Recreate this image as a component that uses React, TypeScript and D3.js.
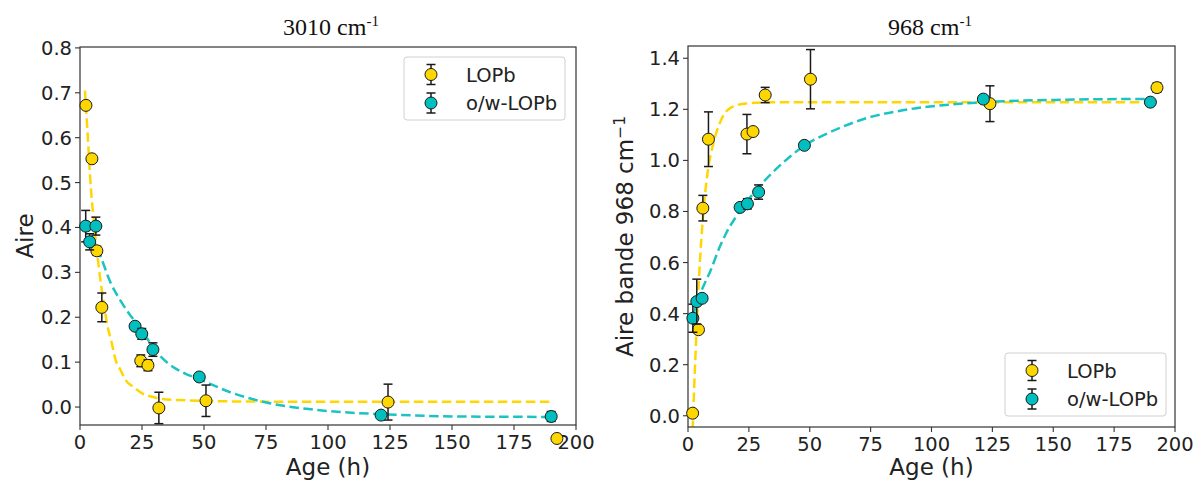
import React from "react";
import * as d3 from "d3";

// ---------- Data: 3010 cm-1 ----------
const lopb3010X = [2.4, 4.8, 6.8, 8.8, 24.5, 27.4, 31.8, 50.8, 124.2, 192.3];
const lopb3010Y = [0.672, 0.553, 0.348, 0.222, 0.103, 0.093, -0.002, 0.014, 0.011, -0.07];
const lopb3010Err = [0.004, 0.004, 0.01, 0.032, 0.013, 0.012, 0.035, 0.035, 0.04, 0];
const ow3010X = [2.3, 3.9, 6.4, 22.2, 24.9, 29.4, 48.1, 121.4, 190.0];
const ow3010Y = [0.403, 0.368, 0.403, 0.18, 0.163, 0.128, 0.067, -0.018, -0.021];
const ow3010Err = [0.035, 0.018, 0.02, 0.005, 0.012, 0.015, 0.005, 0.004, 0.011];
const lopbFit3010X = [2.0, 3.0, 4.35, 5.5, 6.8, 8.4, 9.5, 11.1, 12.5, 14.4, 16.4, 18.4, 21.5, 25.2, 29, 33.2, 42.6, 55, 80, 190];
const lopbFit3010Y = [0.705, 0.615, 0.49, 0.418, 0.35, 0.275, 0.235, 0.18, 0.15, 0.104, 0.082, 0.06, 0.045, 0.03, 0.023, 0.018, 0.015, 0.013, 0.012, 0.012];
const owFit3010X = [2.3, 5, 8.4, 12.4, 16, 19.8, 22, 25, 30.5, 38.6, 42.6, 48.1, 60.6, 76, 91.4, 105, 122.2, 153, 190];
const owFit3010Y = [0.41, 0.378, 0.334, 0.276, 0.24, 0.208, 0.192, 0.17, 0.125, 0.0855, 0.074, 0.062, 0.033, 0.009, -0.004, -0.011, -0.016, -0.021, -0.022];

// ---------- Data: 968 cm-1 ----------
const lopb968X = [1.9, 4.3, 6.1, 8.4, 24.2, 26.7, 31.7, 50.3, 124.0, 192.6];
const lopb968Y = [0.01, 0.337, 0.813, 1.083, 1.103, 1.113, 1.256, 1.318, 1.222, 1.285];
const lopb968Err = [0, 0.01, 0.05, 0.107, 0.077, 0, 0.03, 0.116, 0.07, 0.018];
const ow968X = [2.0, 3.6, 5.8, 21.4, 24.4, 29.0, 47.8, 121.3, 189.9];
const ow968Y = [0.382, 0.447, 0.46, 0.816, 0.83, 0.876, 1.059, 1.24, 1.228];
const ow968Err = [0.055, 0.088, 0.01, 0, 0.02, 0.028, 0, 0, 0];
const lopbFit968X = [1.9, 2.5, 3.0, 4.0, 5.0, 6.0, 7.3, 8.5, 10.5, 13.2, 17.3, 24, 35, 60, 190];
const lopbFit968Y = [-0.056, 0.1, 0.22, 0.44, 0.62, 0.76, 0.895, 0.98, 1.07, 1.15, 1.205, 1.223, 1.228, 1.228, 1.228];
const owFit968X = [2.0, 4, 6.0, 9.1, 13.2, 15.4, 20.1, 29.5, 38.9, 47.8, 57.6, 73.2, 88.8, 120, 151, 190];
const owFit968Y = [0.39, 0.45, 0.5, 0.565, 0.665, 0.71, 0.785, 0.9, 0.99, 1.058, 1.107, 1.165, 1.197, 1.227, 1.237, 1.241];

// ---------- Ticks / labels ----------
const xTicks = [0, 25, 50, 75, 100, 125, 150, 175, 200];
const yTicks3010 = [0, 0.1, 0.2, 0.3, 0.4, 0.5, 0.6, 0.7, 0.8];
const yTicks968 = [0, 0.2, 0.4, 0.6, 0.8, 1.0, 1.2, 1.4];
const seriesNames = ["LOPb", "o/w-LOPb"];

const GOLD = "#FFD700";
const TEAL = "#00BFBF";
const TEAL_LINE = "#1CC3C3";
const SANS = "'DejaVu Sans', sans-serif";
const SERIF = "'Liberation Serif', 'Times New Roman', serif";
const TICK_FS = 19.5;
const LABEL_FS = 23;

type Series = { x: number[]; y: number[]; err: number[]; color: string };
type Fit = { x: number[]; y: number[]; color: string };

function Marker({ cx, cy, top, bot, color }: { cx: number; cy: number; top: number; bot: number; color: string }) {
  const cap = 4.5;
  return (
    <g>
      {Math.abs(bot - top) > 0.5 && (
        <g stroke="#1a1a1a" strokeWidth={1.5}>
          <line x1={cx} x2={cx} y1={top} y2={bot} />
          <line x1={cx - cap} x2={cx + cap} y1={top} y2={top} />
          <line x1={cx - cap} x2={cx + cap} y1={bot} y2={bot} />
        </g>
      )}
      <circle cx={cx} cy={cy} r={6} fill={color} stroke="#1a1a1a" strokeWidth={1} />
    </g>
  );
}

function Panel(props: {
  id: string;
  x0: number; x1: number; yTop: number; yBot: number;
  yDomain: [number, number];
  yTicks: number[]; yFmt: (v: number) => string;
  title: string; titleX: number;
  yLabel: string; yLabelSup?: string; yLabelX: number;
  series: Series[]; fits: Fit[];
  legend: { x: number; y: number };
}) {
  const { id, x0, x1, yTop, yBot } = props;
  const xs = d3.scaleLinear().domain([0, 200]).range([x0, x1]);
  const ys = d3.scaleLinear().domain(props.yDomain).range([yBot, yTop]);
  const line = d3
    .line<[number, number]>()
    .x((d) => xs(d[0]))
    .y((d) => ys(d[1]))
    .curve(d3.curveMonotoneX);
  const cx = (x0 + x1) / 2;
  const cy = (yTop + yBot) / 2;
  const lw = 161, lh = 63;
  return (
    <g>
      <defs>
        <clipPath id={id}>
          <rect x={x0} y={yTop} width={x1 - x0} height={yBot - yTop} />
        </clipPath>
      </defs>
      <text x={props.titleX} y={35} textAnchor="middle" fontFamily={SERIF} fontSize={24} fill="#111">
        {props.title}
        <tspan dy={-9} fontSize={15}>-1</tspan>
      </text>
      <g clipPath={`url(#${id})`}>
        {props.fits.map((f, i) => (
          <path
            key={i}
            d={line(f.x.map((v, j) => [v, f.y[j]] as [number, number])) || ""}
            fill="none"
            stroke={f.color}
            strokeWidth={2.5}
            strokeDasharray="9.5,4.5"
          />
        ))}
      </g>
      <rect x={x0} y={yTop} width={x1 - x0} height={yBot - yTop} fill="none" stroke="#333" strokeWidth={1.2} />
      {xTicks.map((t) => (
        <g key={t}>
          <line x1={xs(t)} x2={xs(t)} y1={yBot} y2={yBot + 5} stroke="#333" strokeWidth={1.1} />
          <text x={xs(t)} y={yBot + 24} textAnchor="middle" fontFamily={SANS} fontSize={TICK_FS} fill="#222">
            {t}
          </text>
        </g>
      ))}
      {props.yTicks.map((t) => (
        <g key={t}>
          <line x1={x0 - 5} x2={x0} y1={ys(t)} y2={ys(t)} stroke="#333" strokeWidth={1.1} />
          <text x={x0 - 8} y={ys(t)} dy="0.36em" textAnchor="end" fontFamily={SANS} fontSize={TICK_FS} fill="#222">
            {props.yFmt(t)}
          </text>
        </g>
      ))}
      <text x={cx} y={475} textAnchor="middle" fontFamily={SANS} fontSize={LABEL_FS} fill="#222">
        Age (h)
      </text>
      <text
        transform={`translate(${props.yLabelX},${cy}) rotate(-90)`}
        textAnchor="middle"
        fontFamily={SANS}
        fontSize={LABEL_FS}
        fill="#222"
      >
        {props.yLabel}
        {props.yLabelSup && (
          <tspan dy={-8} fontSize={15.5}>
            {props.yLabelSup}
          </tspan>
        )}
      </text>
      {props.series.map((s, si) => (
        <g key={si}>
          {s.x.map((v, j) => (
            <Marker
              key={j}
              cx={xs(v)}
              cy={ys(s.y[j])}
              top={ys(s.y[j] + s.err[j])}
              bot={ys(s.y[j] - s.err[j])}
              color={s.color}
            />
          ))}
        </g>
      ))}
      <g>
        <rect x={props.legend.x} y={props.legend.y} width={lw} height={lh} rx={3} fill="#fff" fillOpacity={0.85} stroke="#d0d0d0" strokeWidth={1} />
        {seriesNames.map((n, i) => {
          const ey = props.legend.y + 17.5 + i * 28.5;
          const mx = props.legend.x + 27;
          return (
            <g key={n}>
              <Marker cx={mx} cy={ey} top={ey - 10} bot={ey + 10} color={props.series[i].color} />
              <text x={props.legend.x + 62} y={ey} dy="0.36em" fontFamily={SANS} fontSize={TICK_FS} fill="#222">
                {n}
              </text>
            </g>
          );
        })}
      </g>
    </g>
  );
}

export default function App() {
  const fmt1 = d3.format(".1f");
  return (
    <svg
      width={1196}
      height={480}
      viewBox="0 0 1196 480"
      style={{ position: "absolute", left: 0, top: 0, background: "#fff" }}
    >
      <rect width={1196} height={480} fill="#fff" />
      <Panel
        id="clipA"
        x0={80}
        x1={576}
        yTop={47}
        yBot={425}
        yDomain={[-0.04, 0.802]}
        yTicks={yTicks3010}
        yFmt={fmt1}
        title="3010 cm"
        titleX={331}
        yLabel="Aire"
        yLabelX={33}
        series={[
          { x: lopb3010X, y: lopb3010Y, err: lopb3010Err, color: GOLD },
          { x: ow3010X, y: ow3010Y, err: ow3010Err, color: TEAL },
        ]}
        fits={[
          { x: lopbFit3010X, y: lopbFit3010Y, color: GOLD },
          { x: owFit3010X, y: owFit3010Y, color: TEAL_LINE },
        ]}
        legend={{ x: 404, y: 57 }}
      />
      <Panel
        id="clipB"
        x0={688}
        x1={1175}
        yTop={46}
        yBot={427}
        yDomain={[-0.044, 1.448]}
        yTicks={yTicks968}
        yFmt={fmt1}
        title="968 cm"
        titleX={930}
        yLabel="Aire bande 968 cm"
        yLabelSup="−1"
        yLabelX={633}
        series={[
          { x: lopb968X, y: lopb968Y, err: lopb968Err, color: GOLD },
          { x: ow968X, y: ow968Y, err: ow968Err, color: TEAL },
        ]}
        fits={[
          { x: lopbFit968X, y: lopbFit968Y, color: GOLD },
          { x: owFit968X, y: owFit968Y, color: TEAL_LINE },
        ]}
        legend={{ x: 1005, y: 353 }}
      />
    </svg>
  );
}
